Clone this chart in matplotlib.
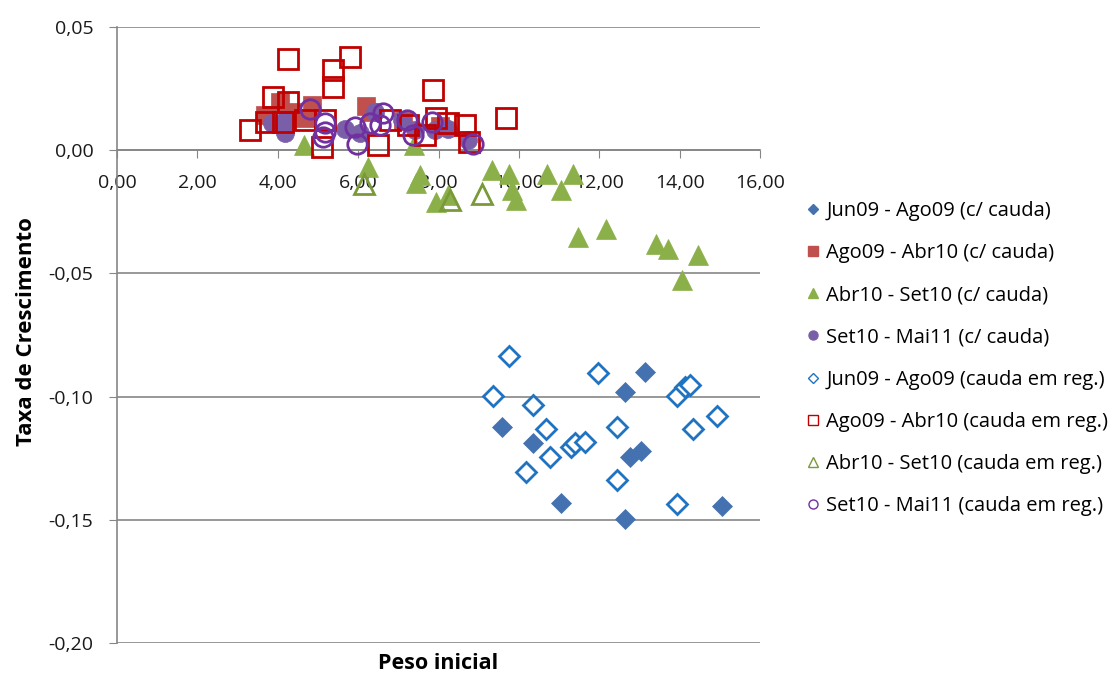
import matplotlib
matplotlib.use("Agg")
from matplotlib import pyplot as plt
from matplotlib.ticker import FuncFormatter, MultipleLocator

plt.rcParams['font.family'] = ['Open Sans', 'DejaVu Sans']

# Jun09 - Ago09 (c/ cauda)
jun_cc_x = [9.57, 10.36, 12.65, 13.13, 12.76, 13.05, 11.04, 12.65, 15.06]
jun_cc_y = [-0.1123, -0.1190, -0.0981, -0.0902, -0.1245, -0.1220, -0.1430, -0.1498, -0.1444]
# Ago09 - Abr10 (c/ cauda)
ago_cc_x = [3.68, 4.05, 4.35, 4.84, 4.68, 6.19, 6.34, 7.11, 8.03]
ago_cc_y = [0.0142, 0.0196, 0.0155, 0.0183, 0.0129, 0.0179, 0.0155, 0.0118, 0.0097]
# Abr10 - Set10 (c/ cauda)
abr_cc_x = [4.65, 7.39, 6.24, 7.54, 7.45, 7.95, 8.24, 9.32, 9.76, 9.82, 9.94, 10.69,
            11.06, 11.35, 11.46, 12.16, 13.42, 13.71, 14.46, 14.05]
abr_cc_y = [0.0020, 0.0020, -0.0069, -0.0101, -0.0135, -0.0210, -0.0183, -0.0081, -0.0095,
            -0.0162, -0.0203, -0.0095, -0.0162, -0.0095, -0.0352, -0.0318, -0.0379, -0.0399,
            -0.0426, -0.0528]
# Set10 - Mai11 (c/ cauda)
set_cc_x = [4.18, 3.85, 4.18, 5.67, 6.04, 6.42, 7.08, 7.41, 7.91, 8.24, 8.74]
set_cc_y = [0.0068, 0.0110, 0.0122, 0.0088, 0.0068, 0.0155, 0.0122, 0.0081, 0.0081, 0.0088, 0.0041]
# Jun09 - Ago09 (cauda em reg.)
jun_reg_x = [9.76, 9.35, 10.36, 10.67, 10.77, 10.17, 11.29, 11.39, 11.64, 11.97, 12.43, 12.43,
             13.94, 14.13, 14.25, 14.34, 14.94, 13.94]
jun_reg_y = [-0.0835, -0.0997, -0.1035, -0.1132, -0.1245, -0.1306, -0.1205, -0.1189, -0.1184,
             -0.0904, -0.1125, -0.1339, -0.0997, -0.0963, -0.0954, -0.1132, -0.1080, -0.1434]
# Ago09 - Abr10 (cauda em reg.)
ago_reg_x = [4.26, 3.89, 4.26, 3.31, 3.72, 4.14, 4.68, 5.38, 5.38, 5.80, 5.09, 5.17, 7.87,
             6.79, 7.25, 6.50, 7.95, 7.66, 8.23, 8.66, 8.76, 9.69]
ago_reg_y = [0.0369, 0.0216, 0.0196, 0.0084, 0.0115, 0.0115, 0.0122, 0.0325, 0.0257, 0.0377,
             0.0013, 0.0122, 0.0243, 0.0122, 0.0101, 0.0020, 0.0129, 0.0061, 0.0110, 0.0101,
             0.0034, 0.0129]
# Abr10 - Set10 (cauda em reg.)
abr_reg_x = [6.14, 8.28, 9.07]
abr_reg_y = [-0.0138, -0.0203, -0.0176]
# Set10 - Mai11 (cauda em reg.)
set_reg_x = [4.80, 5.17, 5.17, 5.13, 5.92, 5.96, 6.29, 6.62, 6.54, 7.21, 7.37, 7.83, 8.87]
set_reg_y = [0.0169, 0.0110, 0.0074, 0.0054, 0.0095, 0.0027, 0.0110, 0.0149, 0.0101, 0.0122,
             0.0061, 0.0115, 0.0027]

fig = plt.figure(figsize=(11.14, 6.75), dpi=100)
ax = fig.add_axes([117/1114, 32/675, 643/1114, 616/675])

series = [
    (jun_cc_x, jun_cc_y, "Jun09 - Ago09 (c/ cauda)", 'D', 10, '#4472B0', '#4472B0'),
    (ago_cc_x, ago_cc_y, "Ago09 - Abr10 (c/ cauda)", 's', 13, '#C0504D', '#C0504D'),
    (abr_cc_x, abr_cc_y, "Abr10 - Set10 (c/ cauda)", '^', 14, '#8BB04A', '#8BB04A'),
    (set_cc_x, set_cc_y, "Set10 - Mai11 (c/ cauda)", 'o', 13, '#7A5FA8', '#7A5FA8'),
    (jun_reg_x, jun_reg_y, "Jun09 - Ago09 (cauda em reg.)", 'D', 10, 'white', '#1F73C0'),
    (ago_reg_x, ago_reg_y, "Ago09 - Abr10 (cauda em reg.)", 's', 14, 'none', '#C00000'),
    (abr_reg_x, abr_reg_y, "Abr10 - Set10 (cauda em reg.)", '^', 14, 'none', '#7A9A3A'),
    (set_reg_x, set_reg_y, "Set10 - Mai11 (cauda em reg.)", 'o', 14, 'none', '#7030A0'),
]
handles = []
for i, (xs, ys, lab, m, ms, fc, ec) in enumerate(series):
    ax.plot(xs, ys, linestyle='none', marker=m, markersize=ms, markerfacecolor=fc,
            markeredgecolor=ec, markeredgewidth=2 if fc in ('white', 'none') else 0.5,
            zorder=3 + i)
    h, = ax.plot([], [], linestyle='none', marker=m, markersize=6.5 if m != 'D' else 5,
                 markerfacecolor=fc, markeredgecolor=ec, markeredgewidth=1, label=lab)
    handles.append(h)

ax.set_xlim(0, 16)
ax.set_ylim(-0.20, 0.05)
ax.xaxis.set_major_locator(MultipleLocator(2))
ax.yaxis.set_major_locator(MultipleLocator(0.05))
ax.xaxis.set_major_formatter(FuncFormatter(lambda v, p: f"{v:.2f}".replace('.', ',')))
ax.yaxis.set_major_formatter(FuncFormatter(lambda v, p: f"{v:.2f}".replace('.', ',').replace('-0,00', '0,00')))

ax.spines['bottom'].set_position(('data', 0))
ax.spines['top'].set_visible(False)
ax.spines['right'].set_visible(False)
for s in ('bottom', 'left'):
    ax.spines[s].set_color('#868686')
    ax.spines[s].set_linewidth(1.2)
ax.grid(axis='y', color='#868686', linewidth=1.2)
ax.set_axisbelow(True)
ax.tick_params(axis='both', colors='#868686', labelcolor='#1a1a1a', labelsize=14, length=6)
ax.tick_params(axis='x', pad=11)
ax.tick_params(axis='y', pad=11)

ax.set_xlabel("Peso inicial", fontsize=15.5, fontweight='bold')
ax.xaxis.set_label_coords(0.5, -0.017)
ax.set_ylabel("Taxa de Crescimento", fontsize=16, fontweight='bold')
ax.yaxis.set_label_coords(-0.125, 0.505)

fig.legend(handles=handles, loc='upper left', bbox_to_anchor=(798/1114, 1 - 193/675),
           frameon=False, fontsize=14.5, labelspacing=1.1, handlelength=0.7,
           handletextpad=0.3, borderaxespad=0)

plt.savefig("out.png", dpi=100)
